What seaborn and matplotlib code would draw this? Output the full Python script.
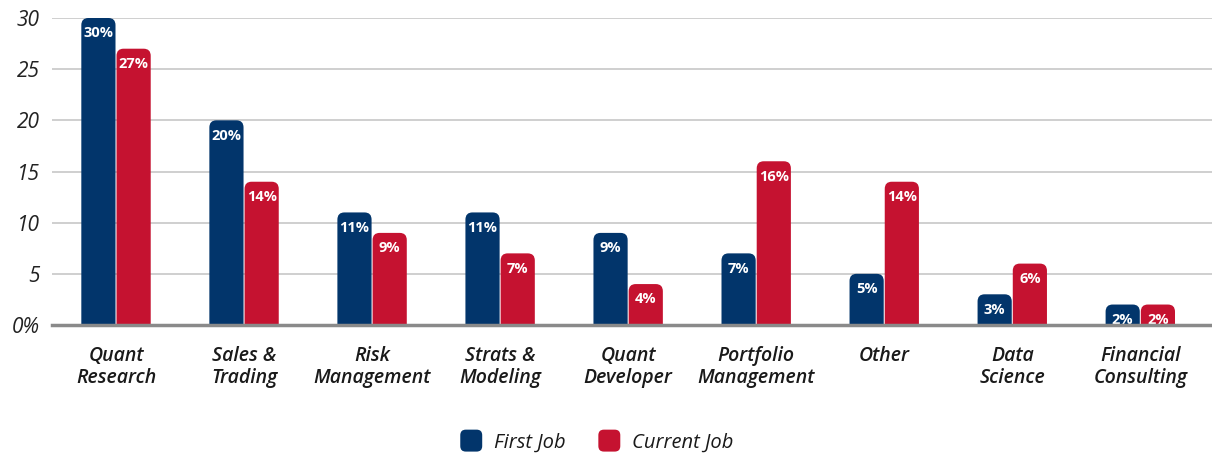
import matplotlib
matplotlib.use("Agg")
import matplotlib.pyplot as plt
from matplotlib.path import Path
from matplotlib.patches import PathPatch, FancyBboxPatch, Patch
from matplotlib.legend_handler import HandlerPatch
import seaborn as sns
import pandas as pd

categories = ["Quant\nResearch", "Sales &\nTrading", "Risk\nManagement", "Strats &\nModeling",
              "Quant\nDeveloper", "Portfolio\nManagement", "Other", "Data\nScience", "Financial\nConsulting"]
first_job = [30, 20, 11, 11, 9, 7, 5, 3, 2]
current_job = [27, 14, 9, 7, 4, 16, 14, 6, 2]
series_names = ["First Job", "Current Job"]
yticks = [0, 5, 10, 15, 20, 25, 30]
ytick_labels = ["0%", "5", "10", "15", "20", "25", "30"]

NAVY = "#02356B"
RED = "#C51230"

df = pd.DataFrame({
    "Category": categories * 2,
    "Value": first_job + current_job,
    "Series": [series_names[0]] * len(categories) + [series_names[1]] * len(categories),
})

sns.set_style("white")
plt.rcParams["font.family"] = ["Open Sans", "DejaVu Sans"]

fig = plt.figure(figsize=(12.12, 4.54), dpi=100)
ax = fig.add_axes([52 / 1212, 1 - 325 / 454, 1 - 52 / 1212, (325 - 18) / 454])

sns.barplot(data=df, x="Category", y="Value", hue="Series", palette=[NAVY, RED],
            width=0.55, gap=0, legend=False, ax=ax, saturation=1)

ax.set_xlim(-0.5, 8.56)
ax.set_ylim(0, 30)

# replace bars with rounded-top bars
rx, ry = 0.055, 0.7
bars = [p for p in list(ax.patches)]
for p in bars:
    x, w, h = p.get_x(), p.get_width(), p.get_height()
    color = p.get_facecolor()
    p.remove()
    x0 = x + 0.004
    x1 = x + w - 0.004
    verts = [(x0, 0), (x0, h - ry), (x0, h), (x0 + rx, h), (x1 - rx, h), (x1, h), (x1, h - ry), (x1, 0), (x0, 0)]
    codes = [Path.MOVETO, Path.LINETO, Path.CURVE3, Path.CURVE3, Path.LINETO, Path.CURVE3, Path.CURVE3,
             Path.LINETO, Path.CLOSEPOLY]
    ax.add_patch(PathPatch(Path(verts, codes), facecolor=color, edgecolor="none", zorder=3))
    ax.text(x + w / 2, h - 1.5, f"{int(round(h))}%", ha="center", va="center", color="white",
            fontsize=10.5, fontweight="bold", zorder=4)

ax.set_yticks(yticks)
ax.set_yticklabels(ytick_labels, fontsize=15, fontstyle="italic", color="#222222")
ax.yaxis.grid(True, color="#cfcfcf", linewidth=1.4, zorder=0)
ax.set_axisbelow(True)
ax.tick_params(axis="y", length=0, pad=9)
ax.tick_params(axis="x", length=0, pad=15)
for lbl in ax.get_xticklabels():
    lbl.set_fontsize(14)
    lbl.set_fontstyle("italic")
    lbl.set_fontweight("semibold")
    lbl.set_color("#1a1a1a")
    lbl.set_linespacing(1.15)
ax.set_xlabel("")
ax.set_ylabel("")
for s in ["top", "right", "left"]:
    ax.spines[s].set_visible(False)
ax.spines["bottom"].set_color("#8a8a8a")
ax.spines["bottom"].set_linewidth(2.5)
ax.spines["bottom"].set_zorder(5)


class RoundHandler(HandlerPatch):
    def create_artists(self, legend, orig_handle, xdescent, ydescent, width, height, fontsize, trans):
        size = min(width, height)
        fb = FancyBboxPatch((-xdescent + (width - size) / 2 + 2, -ydescent + (height - size) / 2 + 2),
                            size - 4, size - 4, boxstyle="round,pad=2,rounding_size=4",
                            facecolor=orig_handle.get_facecolor(), edgecolor="none", transform=trans)
        return [fb]


handles = [Patch(facecolor=NAVY, label=series_names[0]), Patch(facecolor=RED, label=series_names[1])]
leg = fig.legend(handles=handles, loc="center", bbox_to_anchor=(596 / 1212, 1 - 441 / 454), ncol=2,
                 frameon=False, handler_map={Patch: RoundHandler()}, handlelength=1.3, handleheight=1.3,
                 handletextpad=0.5, columnspacing=1.5,
                 prop={"size": 14.5, "style": "italic"})
for t in leg.get_texts():
    t.set_color("#1a1a1a")

fig.savefig("out.png", dpi=100)
